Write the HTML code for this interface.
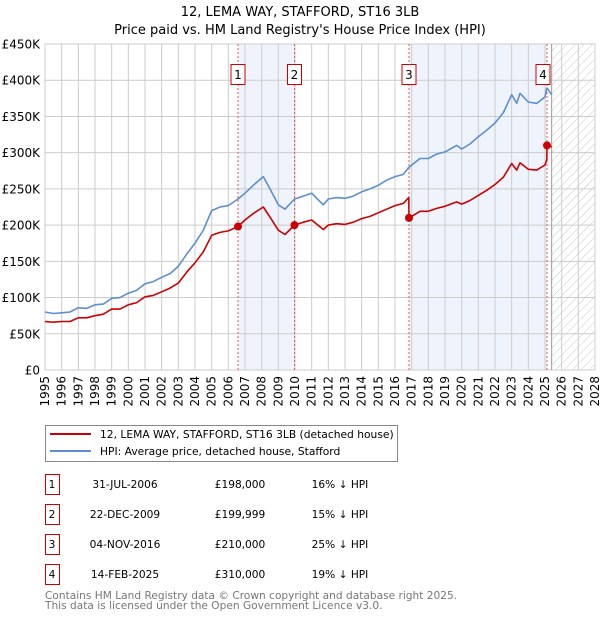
<!DOCTYPE html>
<html><head><meta charset="utf-8"><style>
body{margin:0;background:#fff;font-family:"DejaVu Sans","Liberation Sans",sans-serif;}
svg text{font-family:"DejaVu Sans","Liberation Sans",sans-serif;}
</style></head><body>
<svg id="chart" width="600" height="620" xmlns="http://www.w3.org/2000/svg">
<defs>
<pattern id="hatch" width="6" height="6" patternUnits="userSpaceOnUse" patternTransform="rotate(45)">
<line x1="0" y1="0" x2="0" y2="6" stroke="#c8c8c8" stroke-width="1"/>
</pattern>
</defs>
<text x="300" y="16" text-anchor="middle" font-size="13">12, LEMA WAY, STAFFORD, ST16 3LB</text>
<text x="300" y="34" text-anchor="middle" font-size="13">Price paid vs. HM Land Registry's House Price Index (HPI)</text>
<g id="plot"></g>
<g>
<rect x="45.5" y="425.5" width="352" height="36" fill="#fff" stroke="#888"/>
<line x1="50" y1="434" x2="91" y2="434" stroke="#cc0000" stroke-width="2"/>
<text x="100" y="438" font-size="10.7">12, LEMA WAY, STAFFORD, ST16 3LB (detached house)</text>
<line x1="50" y1="451" x2="91" y2="451" stroke="#5b8fd0" stroke-width="2"/>
<text x="100" y="455" font-size="10.7">HPI: Average price, detached house, Stafford</text>
</g>
<g id="table" font-size="10.6"></g>
<text x="45" y="599" font-size="10.6" fill="#777">Contains HM Land Registry data © Crown copyright and database right 2025.</text>
<text x="45" y="609" font-size="10.6" fill="#777">This data is licensed under the Open Government Licence v3.0.</text>
</svg>
<script>
const dates=[1995.0,1995.5,1996.0,1996.5,1997.0,1997.5,1998.0,1998.5,1999.0,1999.5,2000.0,2000.5,2001.0,2001.5,2002.0,2002.5,2003.0,2003.5,2004.0,2004.5,2005.0,2005.5,2006.0,2006.58,2007.0,2007.5,2008.1,2008.5,2009.0,2009.4,2009.97,2010.5,2011.0,2011.7,2012.0,2012.5,2013.0,2013.5,2014.0,2014.5,2015.0,2015.5,2016.0,2016.5,2016.83,2016.84,2017.5,2018.0,2018.5,2019.0,2019.7,2020.0,2020.5,2021.0,2021.5,2022.0,2022.5,2023.0,2023.3,2023.5,2024.0,2024.5,2025.0,2025.11,2025.12,2025.4];
const hpiValues=[80,78,79,80,86,85,90,91,99,100,106,110,119,122,128,133,143,160,175,193,220,225,227,236,244,255,267,250,228,222,236,240,244,228,236,238,237,240,246,250,255,262,267,270,280,280,292,292,298,301,310,305,312,322,331,341,355,380,368,382,370,368,377,389,389,380];
const paidValues=[67,66,67,67,72,72,75,77,84,84,90,93,101,103,108,113,120,135,148,163,186,190,192,198,207,216,225,211,193,187,200,204,207,194,200,202,201,204,209,212,217,222,227,230,238,210,219,219,223,226,232,229,234,241,248,256,266,285,276,286,277,276,283,290,310,308];
const saleDates=[2006.58,2009.97,2016.84,2025.12];
const salePrices=[198,199.999,210,310];
const saleLabels=["1","2","3","4"];
const saleDateText=["31-JUL-2006","22-DEC-2009","04-NOV-2016","14-FEB-2025"];
const salePriceText=["£198,000","£199,999","£210,000","£310,000"];
const salePctText=["16% ↓ HPI","15% ↓ HPI","25% ↓ HPI","19% ↓ HPI"];
const yTicks=[0,50,100,150,200,250,300,350,400,450];
const yTickLabels=["£0","£50K","£100K","£150K","£200K","£250K","£300K","£350K","£400K","£450K"];
const xYears=[1995,1996,1997,1998,1999,2000,2001,2002,2003,2004,2005,2006,2007,2008,2009,2010,2011,2012,2013,2014,2015,2016,2017,2018,2019,2020,2021,2022,2023,2024,2025,2026,2027,2028];
const dataEnd=2025.4;

const L=45,R=595,T=44,B=370;
const X=d=>L+(d-1995)*(R-L)/33;
const Y=v=>B-v*(B-T)/450;
const NS="http://www.w3.org/2000/svg";
const plot=document.getElementById('plot');
function mk(tag,attrs,parent){const e=document.createElementNS(NS,tag);for(const k in attrs)e.setAttribute(k,attrs[k]);(parent||plot).appendChild(e);return e;}

for(let i=0;i<saleDates.length;i+=2){
  const r=mk('rect',{x:X(saleDates[i]),y:T,width:X(saleDates[i+1])-X(saleDates[i]),height:B-T,fill:'#eef3fc'});
  
  
}
const hr=mk('rect',{x:X(dataEnd),y:T,width:R-X(dataEnd),height:B-T,fill:'url(#hatch)'});


xYears.forEach(yr=>{
  const g=mk('line',{x1:X(yr),x2:X(yr),y1:T,y2:B,stroke:'#cccccc','stroke-width':1});
  
  
  const t=mk('text',{x:0,y:0,'font-size':12,'text-anchor':'end',transform:`translate(${X(yr)+4},${B+6}) rotate(-90)`});
  t.textContent=yr;
  
  
});
yTicks.forEach((v,i)=>{
  const g=mk('line',{x1:L,x2:R,y1:Y(v),y2:Y(v),stroke:'#cccccc','stroke-width':1});
  
  
  const t=mk('text',{x:L-5,y:Y(v)+4.5,'font-size':12,'text-anchor':'end'});
  t.textContent=yTickLabels[i];
  
  
});
const ed=mk('line',{x1:X(dataEnd),x2:X(dataEnd),y1:T,y2:B,stroke:'#999','stroke-width':1});


saleDates.forEach((d,i)=>{
  const l=mk('line',{x1:X(d),x2:X(d),y1:T,y2:B,stroke:'#ee5555','stroke-width':1,'stroke-dasharray':'2,2'});
  
  
});
const ptsH=dates.map((d,i)=>X(d).toFixed(1)+','+Y(hpiValues[i]).toFixed(1)).join(' ');
const hl=mk('polyline',{points:ptsH,fill:'none',stroke:'#5b8fd0','stroke-width':1.6,'stroke-linejoin':'round'});


const ptsP=dates.map((d,i)=>X(d).toFixed(1)+','+Y(paidValues[i]).toFixed(1)).join(' ');
const pl=mk('polyline',{points:ptsP,fill:'none',stroke:'#cc0000','stroke-width':1.6,'stroke-linejoin':'round'});


saleDates.forEach((d,i)=>{
  const c=mk('circle',{cx:X(d),cy:Y(salePrices[i]),r:4,fill:'#cc0000'});
  
  
  const bx=Math.min(X(d)-7,543-7);
  const b=mk('rect',{x:bx,y:64.5,width:14,height:20,fill:'#fff',stroke:'#cc0000','stroke-width':1});
  
  
  const t=mk('text',{x:bx+7,y:79,'font-size':12,'text-anchor':'middle'});
  t.textContent=saleLabels[i];
  
  
});
const tb=document.getElementById('table');
saleLabels.forEach((s,i)=>{
  const y=483+i*30;
  const b=mk('rect',{x:45.5,y:y-8.5,width:14,height:20,fill:'#fff',stroke:'#cc0000'},tb);
  
  
  const cells=[[52,s,'middle','table-row-number'],[125,saleDateText[i],'middle','table-row-date'],[240,salePriceText[i],'middle','table-row-price'],[340,salePctText[i],'middle','table-row-hpi-diff']];
  cells.forEach(c=>{
    const t=mk('text',{x:c[0],y:y+5,'text-anchor':c[2]},tb);
    t.textContent=c[1];
    
    
  });
});
</script>
</body></html>
